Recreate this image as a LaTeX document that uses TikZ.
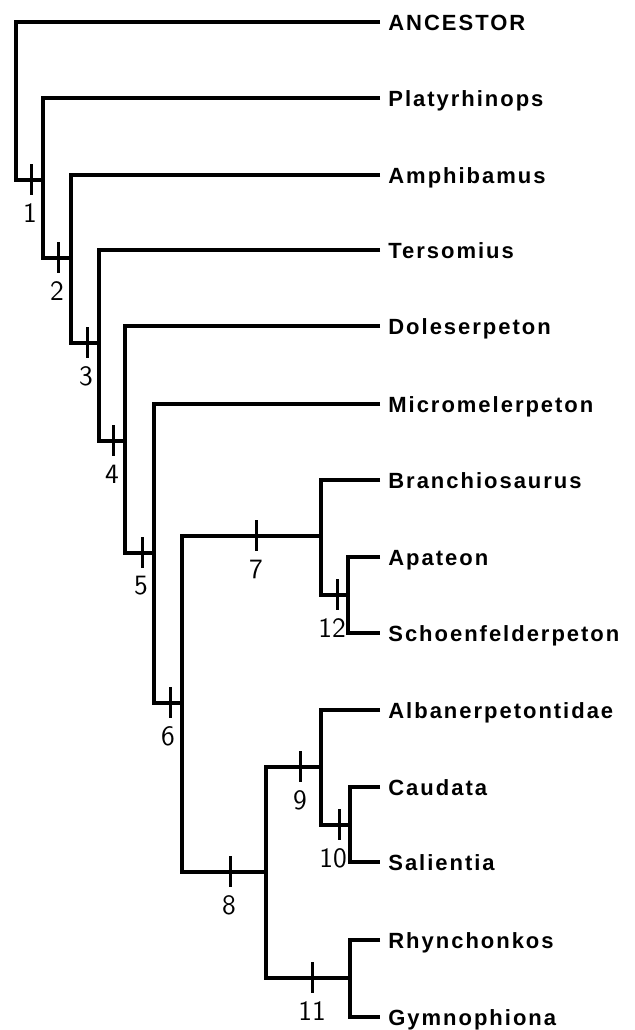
\documentclass[tikz,border=0pt]{standalone}
\usepackage{fontspec}
\setmainfont{Liberation Sans}
\newfontfamily\taxfont[LetterSpace=9]{Liberation Sans}
\usetikzlibrary{positioning}

\begin{document}
\begin{tikzpicture}[x=0.5pt, y=-0.5pt,
    treeline/.style={line width=1.8pt},
    apoTick/.style={line width=1.5pt},
    taxon/.style={anchor=west, inner xsep=4pt, inner ysep=0pt,
      font=\taxfont\bfseries\fontsize{11}{12}\selectfont,
      text height=8pt, text depth=0pt},
    apoNum/.style={inner sep=0pt, font=\sffamily\fontsize{14}{14}\selectfont},
  ]
  \useasboundingbox (0,0) rectangle (634,1030);

  % terminal taxa
  \foreach \nm/\yy/\txt in {ancestor/22/ANCESTOR, platy/98/Platyrhinops,
      amphi/175/Amphibamus, terso/250/Tersomius, doles/326/Doleserpeton,
      micro/404/Micromelerpeton, branchio/480/Branchiosaurus,
      apat/557/Apateon, schoe/633/Schoenfelderpeton,
      alban/710/Albanerpetontidae, caud/787/Caudata, salie/862/Salientia,
      rhyn/940/Rhynchonkos, gymno/1017/Gymnophiona}
    \node[taxon] (\nm) at (380,\yy) {\txt};

  % internal nodes (where the stem meets the vertical)
  \coordinate (r0) at (16,180);
  \coordinate (v1) at (43,180);
  \coordinate (v2) at (71,258);
  \coordinate (v3) at (99,343);
  \coordinate (v4) at (125,441);
  \coordinate (v5) at (154,553);
  \coordinate (v6) at (182,703);
  \coordinate (v7) at (321,536);
  \coordinate (v8) at (266,872);
  \coordinate (v9) at (321,767);
  \coordinate (v10) at (350,825);
  \coordinate (v11) at (350,978);
  \coordinate (v12) at (348,595);

  % branches
  \draw[treeline] (ancestor.west) -| (r0) -- (v1);
  \draw[treeline] (platy.west) -| (v1) |- (v2);
  \draw[treeline] (amphi.west) -| (v2) |- (v3);
  \draw[treeline] (terso.west) -| (v3) |- (v4);
  \draw[treeline] (doles.west) -| (v4) |- (v5);
  \draw[treeline] (micro.west) -| (v5) |- (v6);
  \draw[treeline] (v7) -| (v6) |- (v8);
  \draw[treeline] (branchio.west) -| (v7) |- (v12);
  \draw[treeline] (apat.west) -| (v12) |- (schoe.west);
  \draw[treeline] (v9) -| (v8) |- (v11);
  \draw[treeline] (alban.west) -| (v9) |- (v10);
  \draw[treeline] (caud.west) -| (v10) |- (salie.west);
  \draw[treeline] (rhyn.west) -| (v11) |- (gymno.west);

  % synapomorphy ticks and their numbers
  \foreach \k/\tx/\ty/\lx in {1/31/180/30, 2/58/258/57, 3/87/343/86,
      4/113/441/112, 5/142/553/141, 6/170/703/168, 7/256/536/256,
      8/230/872/229, 9/300/767/300, 10/339/825/333, 11/312/978/312,
      12/337/595/332} {
    \draw[apoTick] (\tx,\ty-16) -- (\tx,\ty+15);
    \node[apoNum] (n\k) at (\lx,\ty+33) {\k};
  }
\end{tikzpicture}
\end{document}
